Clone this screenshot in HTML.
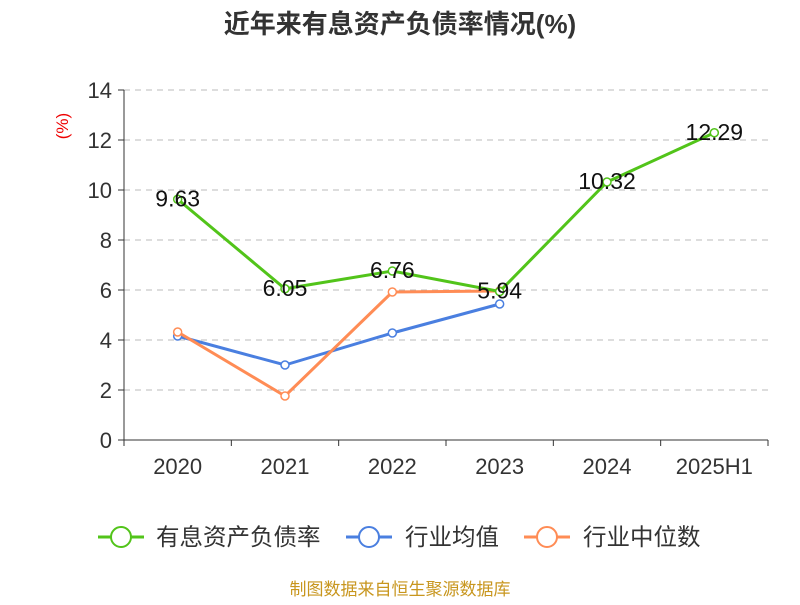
<!DOCTYPE html>
<html><head><meta charset="utf-8"><style>
body{margin:0;background:#fff;}
svg text{font-family:"Liberation Sans","Noto Sans CJK SC",sans-serif;}
</style></head><body>
<svg width="800" height="600" id="c">
<text x="400" y="33" text-anchor="middle" font-size="26" font-weight="bold" fill="#333">近年来有息资产负债率情况(%)</text>
<text x="68" y="126" font-size="17" fill="#e00" text-anchor="middle" transform="rotate(-90 68 126)">(%)</text>
<g id="grid"></g><g id="axes"></g><g id="series"></g>
<g>
<g><line x1="98" y1="537" x2="144" y2="537" stroke="#52c41a" stroke-width="3"/><circle cx="121" cy="537" r="10" fill="#fff" stroke="#52c41a" stroke-width="2"/><text x="156" y="545" font-size="23.5" fill="#333">有息资产负债率</text></g>
<g><line x1="346" y1="537" x2="392" y2="537" stroke="#4a7fe0" stroke-width="3"/><circle cx="369" cy="537" r="10" fill="#fff" stroke="#4a7fe0" stroke-width="2"/><text x="405" y="545" font-size="23.5" fill="#333">行业均值</text></g>
<g><line x1="524" y1="537" x2="570" y2="537" stroke="#ff8c55" stroke-width="3"/><circle cx="547" cy="537" r="10" fill="#fff" stroke="#ff8c55" stroke-width="2"/><text x="583" y="545" font-size="23.5" fill="#333">行业中位数</text></g>
</g>
<text x="400" y="595" text-anchor="middle" font-size="17" fill="#c8961e">制图数据来自恒生聚源数据库</text>
</svg>
<script>
const categories=["2020","2021","2022","2023","2024","2025H1"];
const debtRatio=[9.63,6.05,6.76,5.94,10.32,12.29];
const industryAvg=[4.16,3.0,4.28,5.44];
const industryMedian=[4.32,1.76,5.92,5.96];
const yTicks=[0,2,4,6,8,10,12,14];
const NS="http://www.w3.org/2000/svg";
const x0=124,x1=768,y0=440,y1=90,yMax=14;
const bw=(x1-x0)/categories.length;
const X=i=>x0+bw*(i+0.5);
const Y=v=>y0-(v/yMax)*(y0-y1);
function mk(t,a,p){const e=document.createElementNS(NS,t);for(const k in a)e.setAttribute(k,a[k]);p.appendChild(e);return e;}
const grid=document.getElementById('grid'),axes=document.getElementById('axes'),ser=document.getElementById('series');
yTicks.forEach(v=>{
 if(v>0){const g=mk('line',{x1:x0,x2:x1,y1:Y(v),y2:Y(v),stroke:'#bbb','stroke-dasharray':'6,5'},grid);
 
 }
 const t=mk('line',{x1:x0-6,x2:x0,y1:Y(v),y2:Y(v),stroke:'#333'},axes);
 
 
 const l=mk('text',{x:x0-12,y:Y(v)+8,'text-anchor':'end','font-size':22,fill:'#333'},axes);l.textContent=v;
 
 
});
const ya=mk('line',{x1:x0,x2:x0,y1:y1,y2:y0,stroke:'#333'},axes);


const xa=mk('line',{x1:x0,x2:x1,y1:y0,y2:y0,stroke:'#333'},axes);


for(let i=0;i<=categories.length;i++){const t=mk('line',{x1:x0+bw*i,x2:x0+bw*i,y1:y0,y2:y0+6,stroke:'#333'},axes);
 
 }
categories.forEach((c,i)=>{const l=mk('text',{x:X(i),y:474,'text-anchor':'middle','font-size':22,fill:'#333'},axes);l.textContent=c;
 
 });
function series(vals,color,name,labels){
 const g=mk('g',{},ser);
 
 
 const p=mk('polyline',{points:vals.map((v,i)=>X(i)+','+Y(v)).join(' '),fill:'none',stroke:color,'stroke-width':3},g);
 
 
 vals.forEach((v,i)=>{const c=mk('circle',{cx:X(i),cy:Y(v),r:4,fill:'#fff',stroke:color,'stroke-width':1.5},g);
  
  
  if(labels){const t=mk('text',{x:X(i),y:Y(v)+7,'text-anchor':'middle','font-size':23,fill:'#111'},g);t.textContent=v.toFixed(2);
  
  }});
}
series(industryAvg,'#4a7fe0','industry-average',false);
series(industryMedian,'#ff8c55','industry-median',false);
series(debtRatio,'#52c41a','debt-ratio',true);
</script>
</body></html>
